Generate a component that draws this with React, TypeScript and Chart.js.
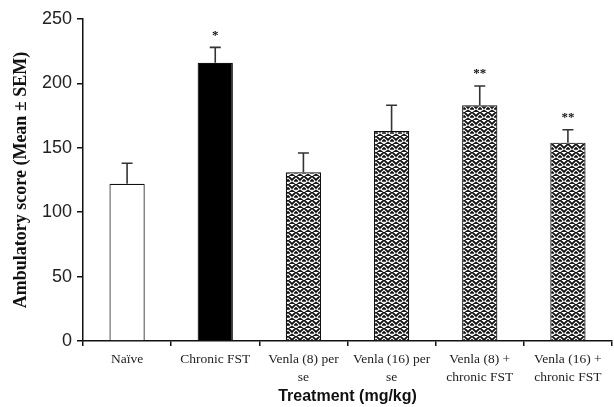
import React, { useEffect, useRef } from "react";
import { Chart, registerables } from "chart.js";

Chart.register(...registerables);

const categories: string[][] = [
  ["Naïve"],
  ["Chronic FST"],
  ["Venla (8) per", "se"],
  ["Venla (16) per", "se"],
  ["Venla (8) +", "chronic FST"],
  ["Venla (16) +", "chronic FST"],
];
const means: number[] = [122, 216, 131, 163, 183, 154];
const sems: number[] = [16, 12, 15, 20, 15, 10];
const significance: string[] = ["", "*", "", "", "**", "**"];
const fillKinds: string[] = ["white", "black", "hatch", "hatch", "hatch", "hatch"];
const yTicks: number[] = [0, 50, 100, 150, 200, 250];

function makeHatch(): CanvasPattern | string {
  const tile = document.createElement("canvas");
  tile.width = 8;
  tile.height = 8;
  const c = tile.getContext("2d");
  if (!c) return "#888";
  c.fillStyle = "#fff";
  c.fillRect(0, 0, 8, 8);
  c.strokeStyle = "#111";
  c.lineWidth = 1.8;
  c.lineCap = "square";
  c.beginPath();
  c.moveTo(-1, -1);
  c.lineTo(4, 4);
  c.lineTo(9, -1);
  c.moveTo(-1, 3);
  c.lineTo(1, 5);
  c.moveTo(9, 3);
  c.lineTo(7, 5);
  c.moveTo(2, 8);
  c.lineTo(4, 6.5);
  c.lineTo(6, 8);
  c.stroke();
  const p = c.createPattern(tile, "repeat");
  return p || "#888";
}

const errorBarPlugin = {
  id: "errorBars",
  afterDatasetsDraw(chart: any) {
    const ctx = chart.ctx as CanvasRenderingContext2D;
    const meta = chart.getDatasetMeta(0);
    const yScale = chart.scales.y;
    ctx.save();
    meta.data.forEach((bar: any, i: number) => {
      const x = bar.x;
      const yTop = yScale.getPixelForValue(means[i]);
      const yErr = yScale.getPixelForValue(means[i] + sems[i]);
      ctx.strokeStyle = "#333";
      ctx.lineWidth = 1.6;
      ctx.beginPath();
      ctx.moveTo(x, yTop);
      ctx.lineTo(x, yErr);
      ctx.moveTo(x - 5.5, yErr);
      ctx.lineTo(x + 5.5, yErr);
      ctx.stroke();
      if (significance[i]) {
        ctx.fillStyle = "#111";
        ctx.font = "bold 13px 'Liberation Serif', 'Times New Roman', serif";
        ctx.textAlign = "center";
        ctx.textBaseline = "middle";
        ctx.fillText(significance[i], x, yErr - 12);
      }
    });
    ctx.restore();
  },
};

export default function App() {
  const canvasRef = useRef<HTMLCanvasElement | null>(null);

  useEffect(() => {
    document.body.style.margin = "0";
    const canvas = canvasRef.current;
    if (!canvas) return;
    const hatch = makeHatch();
    const fills = fillKinds.map((k) => (k === "white" ? "#ffffff" : k === "black" ? "#000000" : hatch));

    const chart = new Chart(canvas, {
      type: "bar",
      data: {
        labels: categories,
        datasets: [
          {
            data: means,
            backgroundColor: fills as any,
            borderColor: "#111",
            borderWidth: 1.2,
            barPercentage: 0.4,
            categoryPercentage: 1,
          },
        ],
      },
      options: {
        animation: false,
        responsive: false,
        devicePixelRatio: 1,
        layout: { padding: { top: 19, right: 2, left: 0, bottom: 0 } },
        plugins: { legend: { display: false }, tooltip: { enabled: false } },
        scales: {
          x: {
            offset: true,
            border: { color: "#111", width: 1.5 },
            grid: {
              offset: true,
              drawOnChartArea: false,
              drawTicks: true,
              tickLength: 5,
              color: "#111",
              lineWidth: 1.5,
            },
            ticks: {
              color: "#222",
              padding: 5,
              maxRotation: 0,
              autoSkip: false,
              font: { family: "'Liberation Serif', 'Times New Roman', serif", size: 13.5, lineHeight: 1.3 },
            },
            title: {
              display: true,
              text: "Treatment (mg/kg)",
              color: "#111",
              padding: { top: 0, bottom: 1 },
              font: { family: "'Liberation Sans', Arial, sans-serif", size: 16, weight: "bold" },
            },
            afterFit: (scale: any) => {
              scale.height = 66;
            },
          },
          y: {
            min: 0,
            max: 250,
            afterBuildTicks: (scale: any) => {
              scale.ticks = yTicks.map((v) => ({ value: v }));
            },
            border: { color: "#111", width: 1.5 },
            grid: {
              drawOnChartArea: false,
              drawTicks: true,
              tickLength: 6,
              color: "#111",
              lineWidth: 1.5,
            },
            ticks: {
              color: "#222",
              padding: 5,
              font: { family: "'Liberation Sans', Arial, sans-serif", size: 18 },
            },
            title: {
              display: true,
              text: "Ambulatory score (Mean ± SEM)",
              color: "#111",
              padding: { top: 11, bottom: 6 },
              font: { family: "'Liberation Serif', 'Times New Roman', serif", size: 18, weight: "bold" },
            },
            afterFit: (scale: any) => {
              scale.width = 83;
            },
          },
        },
      },
      plugins: [errorBarPlugin],
    });
    return () => chart.destroy();
  }, []);

  return (
    <div style={{ position: "absolute", left: 0, top: 0, width: 614, height: 407, background: "#fff" }}>
      <canvas ref={canvasRef} width={614} height={407} />
    </div>
  );
}
